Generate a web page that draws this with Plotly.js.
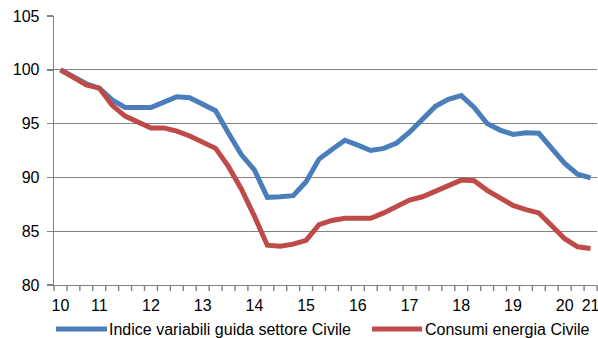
<!DOCTYPE html>
<html>
<head>
<meta charset="utf-8">
<script src="https://cdn.plot.ly/plotly-3.0.1.min.js"></script>
<style>
  html, body { margin: 0; padding: 0; background: #fff; }
  #chart { width: 598px; height: 338px; }
</style>
</head>
<body>
<div id="chart"></div>
<script>
// Quarterly index (first quarter = 100)
const quarters = Array.from({length: 42}, (_, i) => i);

const indiceGuida = [
  100, 99.3, 98.7, 98.3, 97.2, 96.5, 96.45, 96.5, 97.0, 97.5,
  97.4, 96.8, 96.2, 94.1, 92.1, 90.7, 88.15, 88.2, 88.3, 89.6,
  91.7, 92.6, 93.45, 93.0, 92.5, 92.7, 93.2, 94.2, 95.4, 96.6,
  97.25, 97.6, 96.5, 95.0, 94.4, 94.0, 94.15, 94.1, 92.7, 91.3,
  90.3, 89.95
];

const consumiEnergia = [
  100, 99.3, 98.6, 98.3, 96.7, 95.7, 95.1, 94.6, 94.6, 94.3,
  93.85, 93.3, 92.7, 91.0, 88.9, 86.4, 83.7, 83.6, 83.8, 84.15,
  85.6, 86.0, 86.2, 86.2, 86.2, 86.7, 87.3, 87.9, 88.2, 88.7,
  89.3, 89.75, 89.7, 88.8, 88.1, 87.4, 87.0, 86.7, 85.5, 84.3,
  83.55, 83.4
];

// Year labels and the quarter on which each one sits
const yearTickPos = [0, 3, 7, 11, 15, 19, 23, 27, 31, 35, 39, 41];
const yearTickText = ['10', '11', '12', '13', '14', '15', '16', '17', '18', '19', '20', '21'];

const seriesNames = ['Indice variabili guida settore Civile', 'Consumi energia Civile'];
const seriesColors = ['#4A7EBB', '#BE4B48'];

const FONT = '"Liberation Sans", Arial, sans-serif';
const AXIS_GRAY = '#808080';
const PLOT_H = 338 - 16 - 53;
const X_RANGE = [-0.5, quarters.length - 0.5];

const traces = [
  {
    x: quarters, y: indiceGuida, type: 'scatter', mode: 'lines',
    name: seriesNames[0],
    line: {color: seriesColors[0], width: 5}
  },
  {
    x: quarters, y: consumiEnergia, type: 'scatter', mode: 'lines',
    name: seriesNames[1],
    line: {color: seriesColors[1], width: 5}
  }
];

// Tick marks on the category boundaries between quarters (below the axis line)
const toPaperX = v => (v - X_RANGE[0]) / (X_RANGE[1] - X_RANGE[0]);
const boundaryTicks = quarters.concat([quarters.length]).map(q => ({
  type: 'line', xref: 'paper', yref: 'paper', layer: 'above',
  x0: toPaperX(q - 0.5), x1: toPaperX(q - 0.5), y0: 0, y1: -6 / PLOT_H,
  line: {color: AXIS_GRAY, width: 1.4}
}));

// Hand-placed legend below the axis: a line sample followed by its label
const legendY = -0.164;
const legendItems = [
  {x0: 0.0037, x1: 0.0976, tx: 0.0985},
  {x0: 0.5856, x1: 0.6777, tx: 0.6795}
];
const legendLines = legendItems.map((it, k) => ({
  type: 'line', xref: 'paper', yref: 'paper',
  x0: it.x0, x1: it.x1, y0: legendY, y1: legendY,
  line: {color: seriesColors[k], width: 5}
}));
const annotations = legendItems.map((it, k) => ({
  xref: 'paper', yref: 'paper', x: it.tx, y: legendY,
  xanchor: 'left', yanchor: 'middle', showarrow: false,
  text: seriesNames[k],
  font: {family: FONT, size: 16, color: '#000'}
}));

const layout = {
  width: 598, height: 338,
  margin: {l: 54, r: 1, t: 16, b: 53},
  paper_bgcolor: '#fff', plot_bgcolor: '#fff',
  showlegend: false,
  font: {family: FONT, size: 16, color: '#000'},
  xaxis: {
    range: X_RANGE,
    tickmode: 'array', tickvals: yearTickPos, ticktext: yearTickText,
    ticks: '', showgrid: false, zeroline: false,
    showline: true, linecolor: AXIS_GRAY, linewidth: 1.3,
    ticklabelstandoff: 5,
    ticklabeloverflow: 'allow',
    tickfont: {family: FONT, size: 16, color: '#000'}
  },
  yaxis: {
    range: [80, 105], dtick: 5, tick0: 80,
    showgrid: true, gridcolor: AXIS_GRAY, gridwidth: 1.3,
    zeroline: false,
    showline: true, linecolor: AXIS_GRAY, linewidth: 1.3,
    ticks: 'outside', ticklen: 6, tickcolor: AXIS_GRAY, tickwidth: 1.4,
    ticklabelstandoff: 4,
    tickfont: {family: FONT, size: 16, color: '#000'}
  },
  shapes: boundaryTicks.concat(legendLines),
  annotations: annotations
};

Plotly.newPlot('chart', traces, layout, {staticPlot: true, displayModeBar: false});
</script>
</body>
</html>
